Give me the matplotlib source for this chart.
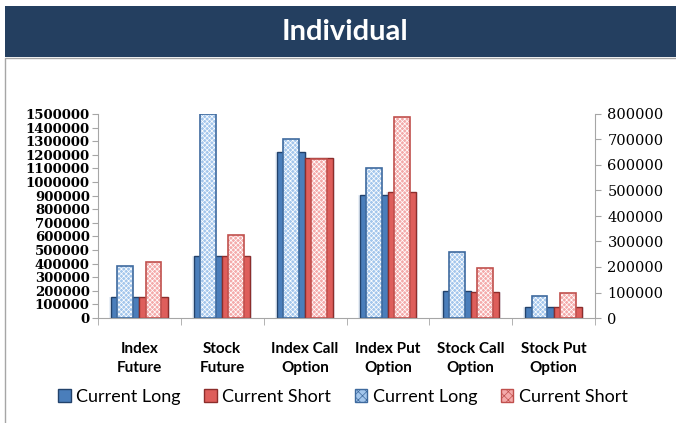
import numpy as np
import matplotlib
matplotlib.use("Agg")
import matplotlib.pyplot as plt
from matplotlib.patches import Rectangle, Patch

categories = ["Index\nFuture", "Stock\nFuture", "Index Call\nOption",
              "Index Put\nOption", "Stock Call\nOption", "Stock Put\nOption"]

# primary axis (solid bars)
long_now = [151000, 458000, 1218000, 907000, 201000, 81000]
short_now = [151000, 458000, 1176000, 924000, 193000, 81000]
# secondary axis (hatched bars)
long_sec = [202000, 800000, 702000, 590000, 258000, 86000]
short_sec = [218000, 327000, 625000, 790000, 195000, 97000]

left_ticks = list(range(0, 1500001, 100000))
right_ticks = list(range(0, 800001, 100000))

W, H = 676, 423
fig = plt.figure(figsize=(W / 100, H / 100), dpi=100)

# banner + frame
fig.patches.append(Rectangle((5 / W, 1 - 57 / H), 1, 51 / H, transform=fig.transFigure,
                             facecolor="#243F60", edgecolor="none", zorder=-2))
fig.patches.append(Rectangle((5 / W, -0.01), 1, 1 - 58 / H + 0.01, transform=fig.transFigure,
                             facecolor="white", edgecolor="#A6A6A6", linewidth=1, zorder=-2))
fig.text(345 / W, 1 - 32 / H, "Individual", color="white", fontsize=21, fontweight="bold",
         family="Lato", ha="center", va="center")

ax = fig.add_axes([98 / W, 1 - 318 / H, (595 - 98) / W, (318 - 114) / H])
ax.patch.set_visible(False)
ax2 = ax.twinx()

x = np.arange(len(categories))
sw = 0.34
hw = 0.19

blue, blue_edge = "#4A7EBB", "#22426B"
red, red_edge = "#DE5E5B", "#8C2D2B"
lblue, lblue_edge = "#A3C6EC", "#3E6A9E"
lred, lred_edge = "#F4AAAA", "#C0504D"

plt.rcParams["hatch.linewidth"] = 0.5

# glow behind solid bars
ax.bar(x - sw / 2, long_now, sw + 0.05, color="#DCE6F2", alpha=0.6, zorder=1)
ax.bar(x + sw / 2, short_now, sw + 0.05, color="#DCE6F2", alpha=0.6, zorder=1)
ax.bar(x - sw / 2, long_now, sw, color=blue, edgecolor=blue_edge, linewidth=1, zorder=2)
ax.bar(x + sw / 2, short_now, sw, color=red, edgecolor=red_edge, linewidth=1, zorder=2)

# hatched bars on secondary axis
ax2.bar(x - sw / 2, long_sec, hw, color=lblue, edgecolor="white", hatch="xxxxxxx", linewidth=0, zorder=2)
ax2.bar(x - sw / 2, long_sec, hw, fill=False, edgecolor=lblue_edge, linewidth=1.2, zorder=3)
ax2.bar(x + sw / 2, short_sec, hw, color=lred, edgecolor="white", hatch="xxxxxxx", linewidth=0, zorder=2)
ax2.bar(x + sw / 2, short_sec, hw, fill=False, edgecolor=lred_edge, linewidth=1.2, zorder=3)

ax.set_xlim(-0.5, len(categories) - 0.5)
ax.set_ylim(0, 1500000)
ax2.set_ylim(0, 800000)

ax.set_xticks(x)
ax.set_xticklabels(categories, fontsize=11, fontweight="bold", family="Lato", linespacing=1.45)
ax.set_xticks(np.arange(-0.5, len(categories)), minor=True)
ax.tick_params(axis="x", which="major", length=0, pad=17)
ax.tick_params(axis="x", which="minor", length=5, color="#A6A6A6", direction="out")

ax.set_yticks(left_ticks)
ax.set_yticklabels([str(v) for v in left_ticks], fontsize=9.5, fontweight="bold", family="DejaVu Serif")
ax.tick_params(axis="y", length=4, color="#A6A6A6", pad=2)
ax2.set_yticks(right_ticks)
ax2.set_yticklabels([str(v) for v in right_ticks], fontsize=10.5, family="DejaVu Serif")
ax2.tick_params(axis="y", length=4, color="#A6A6A6", pad=5)

for a in (ax, ax2):
    a.spines["top"].set_visible(False)
    for s in ("left", "right", "bottom"):
        a.spines[s].set_color("#A6A6A6")
ax.spines["right"].set_visible(False)
ax2.spines["left"].set_visible(False)
ax2.spines["bottom"].set_visible(False)

handles = [
    Patch(facecolor=blue, edgecolor=blue_edge),
    Patch(facecolor=red, edgecolor=red_edge),
    Patch(facecolor=lblue, edgecolor=lblue_edge, hatch="xxxx"),
    Patch(facecolor=lred, edgecolor=lred_edge, hatch="xxxx"),
]
labels = ["Current Long", "Current Short", "Current Long", "Current Short"]
fig.legend(handles, labels, loc="center", bbox_to_anchor=(343 / W, 1 - 397 / H), ncol=4,
           frameon=False, prop={"family": "Lato", "size": 13}, handlelength=0.7,
           handleheight=0.7, handletextpad=0.3, columnspacing=1.3)

fig.savefig("out.png", dpi=100)
